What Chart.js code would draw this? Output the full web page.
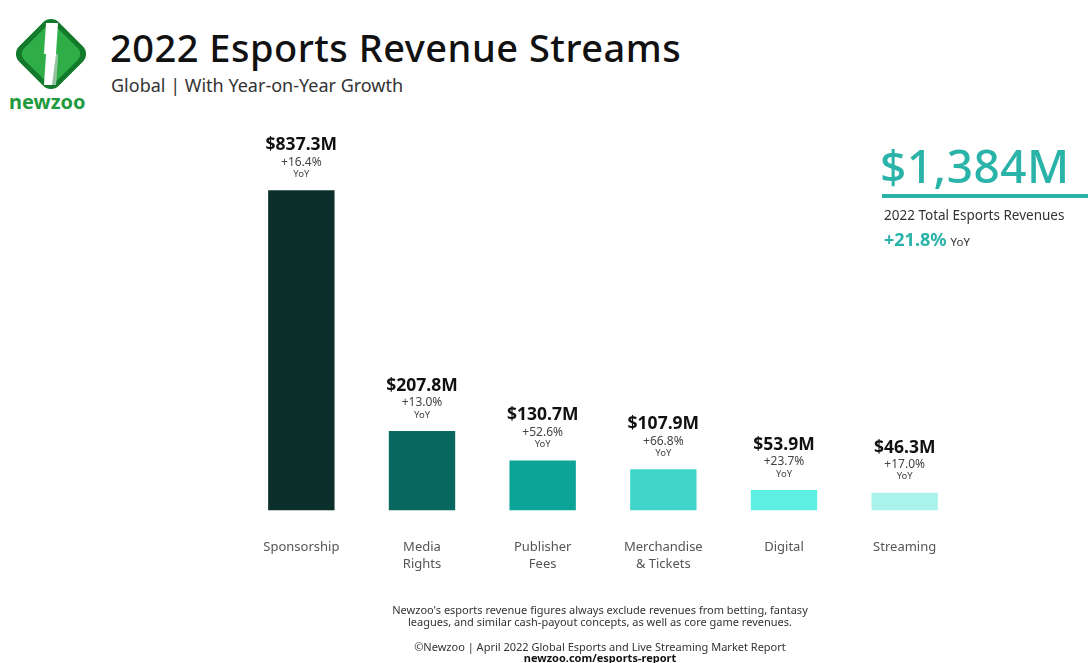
<!DOCTYPE html>
<html>
<head>
<meta charset="utf-8">
<script src="https://cdn.jsdelivr.net/npm/chart.js@4.4.1/dist/chart.umd.min.js"></script>
<style>
  html, body { margin: 0; padding: 0; background: #fff; }
  body { width: 1088px; height: 663px; position: relative; overflow: hidden; font-family: "Noto Sans", "Open Sans", sans-serif; }
  #chartWrap { position: absolute; left: 0; top: 0; width: 1088px; height: 663px; }
  .abs { position: absolute; white-space: nowrap; }
  #title { left: 110px; top: 21px; font-size: 38px; font-weight: 500; color: #111; letter-spacing: 0.5px; }
  #subtitle { left: 111px; top: 73px; font-size: 18px; color: #333; }
  #brand { left: 9px; top: 88px; font-size: 20px; font-weight: 700; color: #1f9a3c; }
  #total { left: 880px; top: 134px; font-size: 46px; font-weight: 500; color: #2ab3a8; letter-spacing: 0.5px; }
  #totalLine { left: 882px; top: 194px; width: 206px; height: 4px; background: #2ab3a8; }
  #totalLabel { left: 884px; top: 206px; font-size: 13.5px; color: #333; }
  #totalYoy { left: 884px; top: 227px; font-size: 18px; font-weight: 700; color: #2ab3a8; }
  #totalYoy span { font-size: 11.5px; font-weight: 400; color: #333; margin-left: 4px; }
  .foot { left: 0; width: 1200px; text-align: center; font-size: 11px; color: #333; }
</style>
</head>
<body>
<svg class="abs" style="left:8px;top:14px" width="86" height="80" viewBox="0 0 86 80">
  <g transform="translate(43,40) rotate(45)">
    <rect x="-28" y="-28" width="56" height="56" rx="11" fill="#137a2c"/>
    <rect x="-23" y="-23" width="46" height="46" rx="8" fill="#2fae48"/>
  </g>
  <path d="M38 9 L50 9 L48 40 L36 40 Z" fill="#fff"/>
  <path d="M38 40 L50 40 L48 71 L36 71 Z" fill="#fff"/>
  <path d="M48 40 L50 40 L48 71 L44 71 Z" fill="#137a2c" opacity="0.45"/>
</svg>
<div class="abs" id="brand">newzoo</div>
<div class="abs" id="title">2022 Esports Revenue Streams</div>
<div class="abs" id="subtitle">Global | With Year-on-Year Growth</div>

<div id="chartWrap"><canvas id="revChart"></canvas></div>

<div class="abs" id="total">$1,384M</div>
<div class="abs" id="totalLine"></div>
<div class="abs" id="totalLabel">2022 Total Esports Revenues</div>
<div class="abs" id="totalYoy">+21.8%<span>YoY</span></div>

<div class="abs foot" style="top:602px">Newzoo's esports revenue figures always exclude revenues from betting, fantasy</div>
<div class="abs foot" style="top:614px">leagues, and similar cash-payout concepts, as well as core game revenues.</div>
<div class="abs foot" style="top:639px">©Newzoo | April 2022 Global Esports and Live Streaming Market Report</div>
<div class="abs foot" style="top:650px;font-weight:700;color:#111">newzoo.com/esports-report</div>

<script>
const categories = [['Sponsorship'], ['Media', 'Rights'], ['Publisher', 'Fees'], ['Merchandise', '& Tickets'], ['Digital'], ['Streaming']];
const revenue = [837.3, 207.8, 130.7, 107.9, 53.9, 46.3];
const growth = ['+16.4%', '+13.0%', '+52.6%', '+66.8%', '+23.7%', '+17.0%'];
const barColors = ['#0b2f2a', '#08685f', '#0ba497', '#3fd6c9', '#5cefe2', '#aaf3ed'];

// labels above each bar: value, growth, "YoY"
const topLabels = {
    id: 'topLabels',
    afterDatasetsDraw(chart) {
        const c = chart.ctx;
        const meta = chart.getDatasetMeta(0);
        c.save();
        c.textAlign = 'center';
        c.textBaseline = 'middle';
        meta.data.forEach((bar, i) => {
            c.fillStyle = '#111';
            c.font = 'bold 17.5px "Noto Sans", sans-serif';
            c.fillText('$' + revenue[i].toFixed(1) + 'M', bar.x, bar.y - 45);
            c.fillStyle = '#444';
            c.font = '12px "Noto Sans", sans-serif';
            c.fillText(growth[i], bar.x, bar.y - 28);
            c.font = '9.5px "Noto Sans", sans-serif';
            c.fillText('YoY', bar.x, bar.y - 16);
        });
        c.restore();
    }
};

new Chart(document.getElementById('revChart'), {
    type: 'bar',
    data: {
        labels: categories,
        datasets: [{
            data: revenue,
            backgroundColor: barColors,
            categoryPercentage: 1,
            barPercentage: 0.55
        }]
    },
    options: {
        responsive: true,
        maintainAspectRatio: false,
        animation: false,
        layout: {
            padding: { left: 241, right: 123, top: 128, bottom: 70 }
        },
        plugins: {
            legend: { display: false },
            tooltip: { enabled: false }
        },
        scales: {
            x: {
                grid: { display: false },
                border: { display: false },
                ticks: {
                    color: '#555',
                    padding: 21,
                    font: { family: '"Noto Sans", sans-serif', size: 13, lineHeight: 1.25 }
                }
            },
            y: {
                display: false,
                min: 0,
                max: 1000
            }
        }
    },
    plugins: [topLabels]
});
</script>
</body>
</html>
